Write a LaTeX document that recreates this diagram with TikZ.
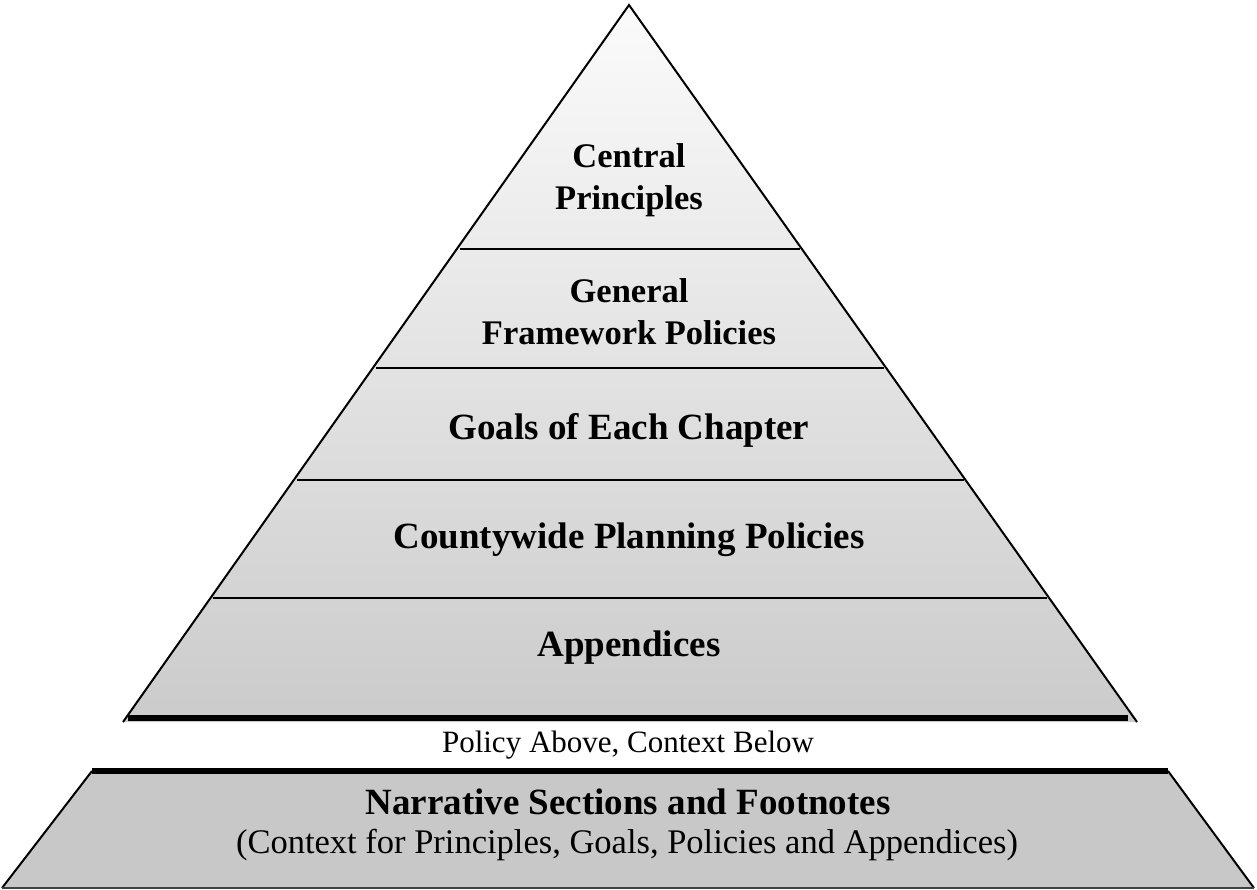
\documentclass[tikz,border=0pt]{standalone}
\usepackage{fontspec}
\setmainfont{Liberation Serif}
\usetikzlibrary{calc}
\definecolor{toptone}{HTML}{FBFBFB}
\definecolor{basetone}{HTML}{CBCBCB}
\definecolor{ctxfill}{HTML}{C8C8C8}
\tikzset{
  band/.style={font=\bfseries\fontsize{37}{42}\selectfont, align=center, inner sep=0pt},
  smallband/.style={font=\bfseries\fontsize{34.5}{42}\selectfont, align=center, inner sep=0pt},
  plain/.style={font=\fontsize{31}{34}\selectfont, align=center, inner sep=0pt},
  ctxtext/.style={font=\fontsize{34.5}{38}\selectfont, align=center, inner sep=0pt},
  edge/.style={line width=2pt, black},
  divider/.style={line width=2.2pt, black},
  thickbar/.style={line width=6pt, black}
}
\begin{document}
\begin{tikzpicture}[x=1pt,y=-1pt]
\useasboundingbox (0,0) rectangle (1257,890);
% pyramid
\coordinate (apex) at (629,5);
\coordinate (bl) at (123,722);
\coordinate (br) at (1137,722);
\shade[top color=toptone, bottom color=basetone] (apex) -- (br) -- (bl) -- cycle;
\draw[edge, line join=miter] (bl) -- (apex) -- (br);
% dividers
\foreach \t/\n in {0.3403/a,0.5063/b,0.6625/c,0.8271/d}{
  \coordinate (l\n) at ($(apex)!\t!(bl)$);
  \coordinate (r\n) at ($(apex)!\t!(br)$);
  \draw[divider] ($(l\n)+(3,0)$) -- ($(r\n)+(-2,0)$);
}
\coordinate (barL) at (128,718);
\coordinate (barR) at (1128,718);
\draw[thickbar] (barL) -- (barR);
% band labels
\node[smallband] (central) at (629,180) {Central\\Principles};
\node[smallband] (general) at (629,312) {General\\Framework Policies};
\node[band] (goals) at (629,430) {Goals of Each Chapter};
\node[band] (county) at (629,540) {Countywide Planning Policies};
\node[band] (append) at (629,648) {Appendices};
% separator text
\node[plain] (sep) at (628,745) {Policy Above, Context Below};
% context trapezoid
\coordinate (tl) at (92,771);
\coordinate (tr) at (1168,771);
\coordinate (btl) at (2,888);
\coordinate (btr) at (1254,888);
\fill[ctxfill] (tl) -- (tr) -- (btr) -- (btl) -- cycle;
\draw[edge] (tl) -- (btl);
\draw[edge] (tr) -- (btr);
\draw[line width=1.2pt, black!75] (btl) -- (btr);
\draw[thickbar] (tl) -- (tr);
\node[band] (narr) at (628,802) {Narrative Sections and Footnotes};
\node[ctxtext] (ctx) at (627,845) {(Context for Principles, Goals, Policies and Appendices)};
\end{tikzpicture}
\end{document}
